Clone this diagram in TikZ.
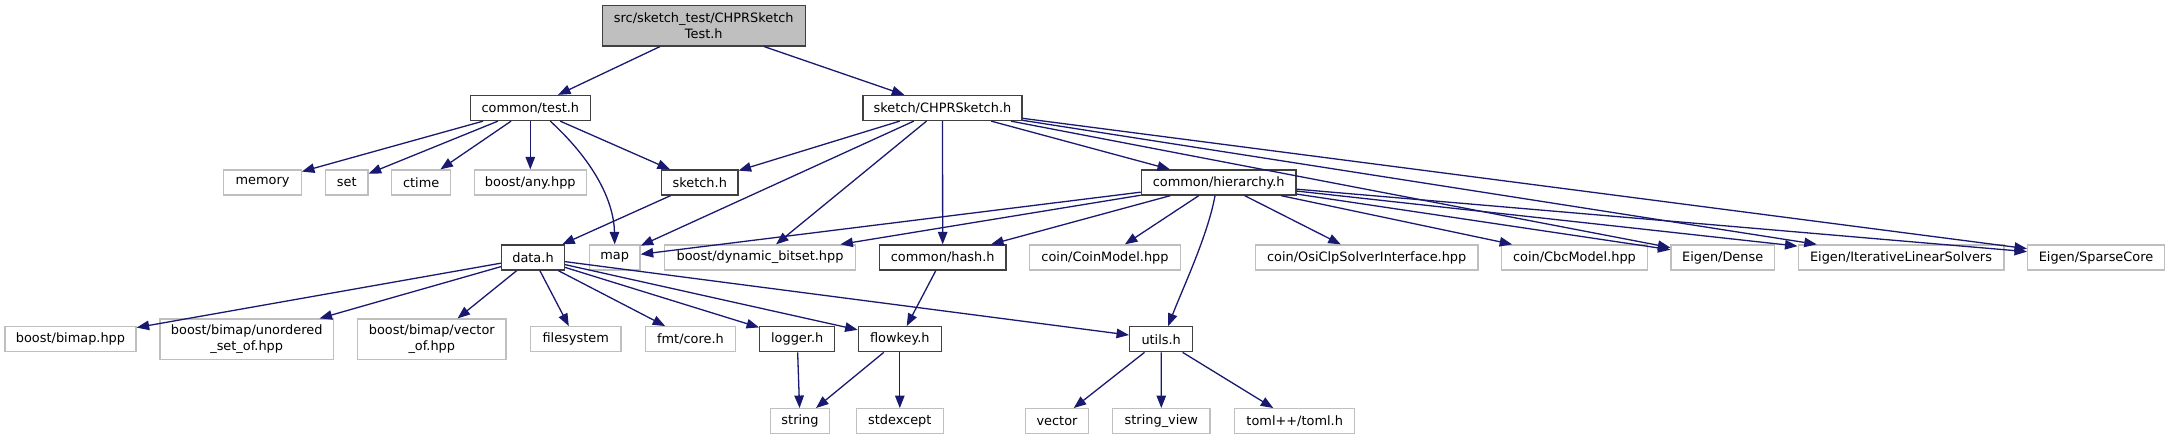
\documentclass[tikz,border=0pt]{standalone}
\usepackage{fontspec}
\setmainfont{DejaVu Sans}
\usetikzlibrary{arrows.meta}
\definecolor{edgeblue}{HTML}{191970}
\definecolor{extgray}{HTML}{BFBFBF}
\definecolor{intgray}{HTML}{404040}
\tikzset{
  box/.style={rectangle, inner sep=0pt, minimum height=25pt, line width=1.3pt,
    font=\fontsize{12.9}{15.3}\selectfont, text=black, align=center},
  ext/.style={box, draw=extgray},
  int/.style={box, draw=intgray},
  rootbox/.style={box, draw=intgray, fill=extgray, minimum height=40.3pt},
  edge/.style={draw=edgeblue, line width=1.3pt, -{Triangle[length=12.5pt,width=9.5pt]}},
}
\begin{document}
\begin{tikzpicture}[x=1pt,y=-1pt]
\useasboundingbox (0,0) rectangle (2169,440);
% rank 0
\node[rootbox, minimum width=203pt] (root) at (703.8,25.8) {src/sketch\_test/CHPRSketch\\Test.h};
% rank 1
\node[int, minimum width=120pt] (test) at (530.3,108) {common/test.h};
\node[int, minimum width=159pt] (chpr) at (942.5,108) {sketch/CHPRSketch.h};
% rank 2
\node[ext, minimum width=77.6pt] (memory) at (262.5,182.5) {memory};
\node[ext, minimum width=42.7pt] (set) at (346.7,182.5) {set};
\node[ext, minimum width=59pt] (ctime) at (421.2,182.5) {ctime};
\node[ext, minimum width=112pt] (any) at (530.3,182.5) {boost/any.hpp};
\node[int, minimum width=76.3pt] (sketch) at (699.8,182.5) {sketch.h};
\node[int, minimum width=154.7pt] (hier) at (1218.7,182.5) {common/hierarchy.h};
% rank 3
\node[int, minimum width=62.6pt] (data) at (533,257.5) {data.h};
\node[ext, minimum width=50.7pt] (map) at (614.7,257.5) {map};
\node[ext, minimum width=190.7pt] (dynbit) at (760,257.5) {boost/dynamic\_bitset.hpp};
\node[int, minimum width=126.7pt] (hash) at (942.7,257.5) {common/hash.h};
\node[ext, minimum width=150.7pt] (coinmodel) at (1105,257.5) {coin/CoinModel.hpp};
\node[ext, minimum width=222.7pt] (osi) at (1366.7,257.5) {coin/OsiClpSolverInterface.hpp};
\node[ext, minimum width=145.7pt] (cbc) at (1574.5,257.5) {coin/CbcModel.hpp};
\node[ext, minimum width=103.3pt] (dense) at (1722.7,257.5) {Eigen/Dense};
\node[ext, minimum width=205.7pt] (iter) at (1901,257.5) {Eigen/IterativeLinearSolvers};
\node[ext, minimum width=136.7pt] (sparse) at (2096,257.5) {Eigen/SparseCore};
% rank 4
\node[ext, minimum width=131pt] (bimap) at (70.5,339.2) {boost/bimap.hpp};
\node[ext, minimum width=173.3pt, minimum height=40.3pt] (unord) at (246.7,339.2) {boost/bimap/unordered\\\_set\_of.hpp};
\node[ext, minimum width=148.3pt, minimum height=40.3pt] (vecof) at (431.8,339.2) {boost/bimap/vector\\\_of.hpp};
\node[ext, minimum width=90.7pt] (fs) at (575.7,339.2) {filesystem};
\node[ext, minimum width=89.7pt] (fmt) at (690.5,339.2) {fmt/core.h};
\node[int, minimum width=75pt] (logger) at (797.2,339.2) {logger.h};
\node[int, minimum width=83pt] (flowkey) at (899.8,339.2) {flowkey.h};
\node[int, minimum width=63pt] (utils) at (1161.2,339.2) {utils.h};
% rank 5
\node[ext, minimum width=58.7pt] (string) at (800,421.2) {string};
\node[ext, minimum width=87pt] (stdexcept) at (899.8,421.2) {stdexcept};
\node[ext, minimum width=62.7pt] (vector) at (1057,421.2) {vector};
\node[ext, minimum width=97.3pt] (strview) at (1161.3,421.2) {string\_view};
\node[ext, minimum width=120pt] (toml) at (1294.7,421.2) {toml++/toml.h};

% edges
\draw[edge] (root) -- (test);
\draw[edge] (root) -- (chpr);
\draw[edge] (test) -- (memory);
\draw[edge] (test) -- (set);
\draw[edge] (test) -- (ctime);
\draw[edge] (test) -- (any);
\draw[edge] ([xshift=20pt]test.south) .. controls (598,165) and (614,205) .. (map.north);
\draw[edge] (test) -- (sketch);
\draw[edge] (chpr) -- (sketch);
\draw[edge] (chpr) -- (map);
\draw[edge] (chpr) -- (dynbit);
\draw[edge] (chpr) -- (hash);
\draw[edge] (chpr) -- (hier);
\draw[edge] (chpr) -- (dense);
\draw[edge] (chpr) -- (iter);
\draw[edge] (chpr) -- (sparse);
\draw[edge] (sketch) -- (data);
\draw[edge] (hier) -- (map);
\draw[edge] (hier) -- (dynbit);
\draw[edge] (hier) -- (hash);
\draw[edge] (hier) -- (coinmodel);
\draw[edge] (hier) -- (osi);
\draw[edge] (hier) -- (cbc);
\draw[edge] (hier) -- (dense);
\draw[edge] (hier) -- (iter);
\draw[edge] (hier) -- (sparse);
\draw[edge] ([xshift=-3.7pt]hier.south) .. controls (1208,235) and (1182,290) .. ([xshift=7pt]utils.north);
\draw[edge] (data) -- (bimap);
\draw[edge] (data) -- (unord);
\draw[edge] (data) -- (vecof);
\draw[edge] (data) -- (fs);
\draw[edge] (data) -- (fmt);
\draw[edge] (data) -- (logger);
\draw[edge] (data) -- (flowkey);
\draw[edge] (data) -- (utils);
\draw[edge] (hash) -- (flowkey);
\draw[edge] (logger) -- (string);
\draw[edge] (flowkey) -- (string);
\draw[edge] (flowkey) -- (stdexcept);
\draw[edge] (utils) -- (vector);
\draw[edge] (utils) -- (strview);
\draw[edge] (utils) -- (toml);
\end{tikzpicture}
\end{document}
